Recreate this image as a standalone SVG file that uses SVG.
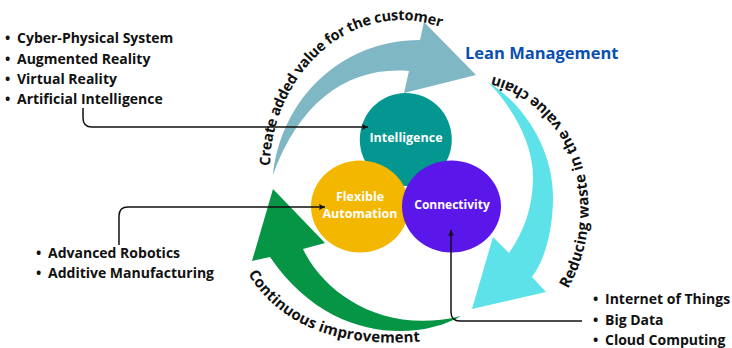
<svg xmlns="http://www.w3.org/2000/svg" xmlns:xlink="http://www.w3.org/1999/xlink" width="732" height="348" viewBox="0 0 732 348">
<style>
text{font-family:"Open Sans","Noto Sans","Liberation Sans",sans-serif;font-weight:700}
.l{font-size:14px;fill:#111}
.a{font-size:14.500px;fill:#111;letter-spacing:-.25px}
.b{font-size:15px;fill:#111;letter-spacing:.15px}
.n{font-size:12.500px;fill:#fff;text-anchor:middle}
.c{fill:none;stroke:#111;stroke-width:1.5}
</style>
<defs>
<marker id="ah" viewBox="0 0 8 8" refX="7" refY="4" markerWidth="7" markerHeight="7" markerUnits="userSpaceOnUse" orient="auto"><path d="M0 0.5L7 4L0 7.5L1.5 4Z" fill="#111"/></marker>
<path id="p1" d="M270 166C270 100 320 22 400 20Q422 20 450 30"/>
<path id="p2" d="M568 289C590 250 596 200 578 153C562 115 530 85 490 76L470 72"/>
<path id="p3" d="M248 274C272 312 318 351 426 341"/>
</defs>
<g id="arrow-blue"><path d="M273 175C281 100 340 40 420 40L424 22L476 75L404 93L409 71C350 66 300 100 273 175Z" fill="#80b7c4"/></g>
<g id="arrow-cyan"><path d="M488 82C525 105 553 150 553 197C553 230 545 260 532 277L546 292L472 309L493 237L509 253C525 230 533 205 533 177C533 145 515 110 488 82Z" fill="#5ce2e8"/></g>
<g id="arrow-green"><path d="M461 316C420 340 330 345 270 257L252 261L273 189L325 243L303 249C325 295 385 335 461 316Z" fill="#059544"/></g>
<g id="node-intelligence"><ellipse cx="405.800" cy="139.500" rx="46" ry="46.500" fill="#049690"/><text class="n" x="406" y="142">Intelligence</text></g>
<g id="node-flexible"><ellipse cx="360" cy="206.500" rx="49" ry="46" fill="#f4b700"/><text class="n" x="360" y="201">Flexible</text><text class="n" x="360" y="218">Automation</text></g>
<g id="node-connectivity"><ellipse cx="451.500" cy="206.500" rx="49.500" ry="46" fill="#5b17ea"/><text class="n" x="452" y="209" style="font-size:12px">Connectivity</text></g>
<g id="connectors">
<path class="c" marker-end="url(#ah)" d="M83 108V118Q83 127 92 127H368"/>
<path class="c" marker-end="url(#ah)" d="M119 245V216Q119 207 128 207H325"/>
<path class="c" marker-end="url(#ah)" d="M582 321H460Q451 321 451 312V230"/>
</g>
<g id="arc-labels">
<text class="a"><textPath xlink:href="#p1" href="#p1">Create added value for the customer</textPath></text>
<text class="b"><textPath xlink:href="#p2" href="#p2">Reducing waste in the value chain</textPath></text>
<text class="b"><textPath xlink:href="#p3" href="#p3">Continuous improvement</textPath></text>
</g>
<text id="title" x="465" y="59" font-size="16.500" fill="#0a4fb0">Lean Management</text>
<g id="list-top">
<text class="l" x="5" y="43">•<tspan x="17">Cyber-Physical System</tspan></text>
<text class="l" x="5" y="64">•<tspan x="17">Augmented Reality</tspan></text>
<text class="l" x="5" y="84">•<tspan x="17">Virtual Reality</tspan></text>
<text class="l" x="5" y="104">•<tspan x="17">Artificial Intelligence</tspan></text>
</g>
<g id="list-left">
<text class="l" x="36" y="258">•<tspan x="48">Advanced Robotics</tspan></text>
<text class="l" x="36" y="278">•<tspan x="48">Additive Manufacturing</tspan></text>
</g>
<g id="list-right">
<text class="l" x="593" y="304">•<tspan x="605">Internet of Things</tspan></text>
<text class="l" x="593" y="325">•<tspan x="605">Big Data</tspan></text>
<text class="l" x="593" y="345">•<tspan x="605">Cloud Computing</tspan></text>
</g>
</svg>
